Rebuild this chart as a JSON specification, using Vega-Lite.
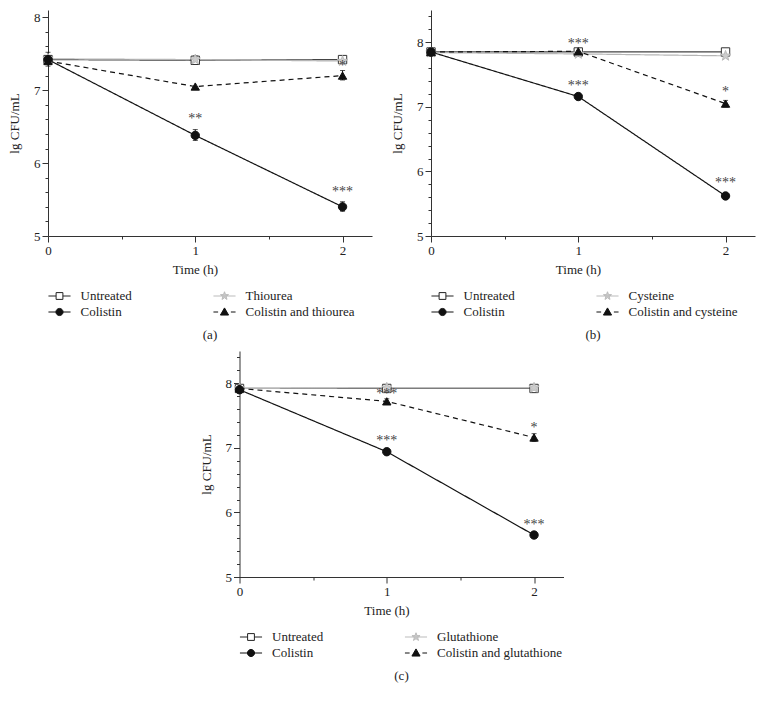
{
"$schema": "https://vega.github.io/schema/vega-lite/v6.json",
"padding": {"left": 8, "top": 10, "right": 5, "bottom": 5},
"background": "white",
"datasets": {
"pts": [
{"panel":"a","series":"Untreated","time":0,"value":7.42},{"panel":"a","series":"Untreated","time":1,"value":7.41},{"panel":"a","series":"Untreated","time":2,"value":7.42},
{"panel":"a","series":"Thiourea","time":0,"value":7.43},{"panel":"a","series":"Thiourea","time":1,"value":7.42},{"panel":"a","series":"Thiourea","time":2,"value":7.40},
{"panel":"a","series":"Colistin","time":0,"value":7.42},{"panel":"a","series":"Colistin","time":1,"value":6.38},{"panel":"a","series":"Colistin","time":2,"value":5.40},
{"panel":"a","series":"Colistin and thiourea","time":0,"value":7.40},{"panel":"a","series":"Colistin and thiourea","time":1,"value":7.05},{"panel":"a","series":"Colistin and thiourea","time":2,"value":7.20},
{"panel":"b","series":"Untreated","time":0,"value":7.85},{"panel":"b","series":"Untreated","time":1,"value":7.85},{"panel":"b","series":"Untreated","time":2,"value":7.85},
{"panel":"b","series":"Cysteine","time":0,"value":7.84},{"panel":"b","series":"Cysteine","time":1,"value":7.82},{"panel":"b","series":"Cysteine","time":2,"value":7.79},
{"panel":"b","series":"Colistin","time":0,"value":7.85},{"panel":"b","series":"Colistin","time":1,"value":7.16},{"panel":"b","series":"Colistin","time":2,"value":5.62},
{"panel":"b","series":"Colistin and cysteine","time":0,"value":7.85},{"panel":"b","series":"Colistin and cysteine","time":1,"value":7.86},{"panel":"b","series":"Colistin and cysteine","time":2,"value":7.05},
{"panel":"c","series":"Untreated","time":0,"value":7.92},{"panel":"c","series":"Untreated","time":1,"value":7.92},{"panel":"c","series":"Untreated","time":2,"value":7.92},
{"panel":"c","series":"Glutathione","time":0,"value":7.92},{"panel":"c","series":"Glutathione","time":1,"value":7.93},{"panel":"c","series":"Glutathione","time":2,"value":7.93},
{"panel":"c","series":"Colistin","time":0,"value":7.90},{"panel":"c","series":"Colistin","time":1,"value":6.94},{"panel":"c","series":"Colistin","time":2,"value":5.65},
{"panel":"c","series":"Colistin and glutathione","time":0,"value":7.92},{"panel":"c","series":"Colistin and glutathione","time":1,"value":7.72},{"panel":"c","series":"Colistin and glutathione","time":2,"value":7.16}
],
"err": [
{"panel":"a","time":0,"lo":7.33,"hi":7.52},{"panel":"a","time":1,"lo":6.31,"hi":6.46},{"panel":"a","time":2,"lo":5.34,"hi":5.47},{"panel":"a","time":2,"lo":7.14,"hi":7.27},{"panel":"a","time":2,"lo":7.38,"hi":7.46},{"panel":"a","time":1,"lo":7.37,"hi":7.47},
{"panel":"b","time":0,"lo":7.80,"hi":7.90},{"panel":"b","time":2,"lo":7.00,"hi":7.10},{"panel":"b","time":2,"lo":7.81,"hi":7.89},
{"panel":"c","time":0,"lo":7.87,"hi":7.96},{"panel":"c","time":1,"lo":7.68,"hi":7.76},{"panel":"c","time":2,"lo":7.10,"hi":7.22},{"panel":"c","time":2,"lo":7.89,"hi":7.95}
],
"ann": [
{"panel":"a","time":1,"value":6.60,"label":"**"},{"panel":"a","time":2,"value":5.60,"label":"***"},{"panel":"a","time":2,"value":7.33,"label":"*"},
{"panel":"b","time":1,"value":7.97,"label":"***"},{"panel":"b","time":1,"value":7.33,"label":"***"},{"panel":"b","time":2,"value":7.23,"label":"*"},{"panel":"b","time":2,"value":5.82,"label":"***"},
{"panel":"c","time":1,"value":7.83,"label":"***"},{"panel":"c","time":1,"value":7.10,"label":"***"},{"panel":"c","time":2,"value":7.30,"label":"*"},{"panel":"c","time":2,"value":5.81,"label":"***"}
]
},
"vconcat": [
{"hconcat": [
{
"width": 324, "height": 226,
"title": {"text": "(a)"},
"layer": [
{"data": {"name": "pts"}, "transform": [{"filter": "datum.panel === 'a'"}],
 "mark": {"type": "line", "strokeWidth": 1.2},
 "encoding": {
  "x": {"field": "time", "type": "quantitative", "scale": {"domain": [0, 2.2], "nice": false, "zero": false},
        "axis": {"orient": "bottom", "title": "Time (h)", "values": [0,1,2], "format": "d", "tickSize": 6, "titleX": 147, "titlePadding": 6, "labelPadding": 2}},
  "y": {"field": "value", "type": "quantitative", "scale": {"domain": [5, 8.1], "nice": false, "zero": false},
        "axis": {"orient": "left", "title": "lg CFU/mL", "values": [5,6,7,8], "format": "d", "tickSize": 6, "titlePadding": 12, "labelPadding": 2}},
  "color": {"field": "series", "type": "nominal", "scale": {"domain": ["Untreated","Colistin","Thiourea","Colistin and thiourea"], "range": ["#444","#111","#b5b5b5","#111"]}, "legend": null},
  "strokeDash": {"field": "series", "type": "nominal", "scale": {"domain": ["Untreated","Colistin","Thiourea","Colistin and thiourea"], "range": [[1,0],[1,0],[1,0],[5,4]]}, "legend": null}
 }},
{"data": {"name": "err"}, "transform": [{"filter": "datum.panel === 'a'"}],
 "mark": {"type": "errorbar", "ticks": {"size": 5}, "color": "#111"},
 "encoding": {"x": {"field": "time", "type": "quantitative", "axis": null}, "y": {"field": "lo", "type": "quantitative", "axis": null}, "y2": {"field": "hi"}}},
{"data": {"name": "pts"}, "transform": [{"filter": "datum.panel === 'a'"}],
 "mark": {"type": "point", "filled": true, "size": 70, "strokeWidth": 1, "opacity": 1},
 "encoding": {
  "x": {"field": "time", "type": "quantitative", "axis": {"orient": "bottom", "title": null, "values": [0.5,1.5], "labels": false, "domain": false, "tickSize": 3}},
  "y": {"field": "value", "type": "quantitative", "axis": {"orient": "left", "title": null, "values": [5.2,5.4,5.6,5.8,6.2,6.4,6.6,6.8,7.2,7.4,7.6,7.8], "labels": false, "domain": false, "tickSize": 3}},
  "shape": {"field": "series", "type": "nominal", "scale": {"domain": ["Untreated","Colistin","Thiourea","Colistin and thiourea"], "range": ["square","circle","M0,-1.3L0.306,-0.421L1.236,-0.402L0.494,0.161L0.764,1.052L0,0.52L-0.764,1.052L-0.494,0.161L-1.236,-0.402L-0.306,-0.421Z","triangle-up"]}, "legend": null},
  "fill": {"field": "series", "type": "nominal", "scale": {"domain": ["Untreated","Colistin","Thiourea","Colistin and thiourea"], "range": ["white","#111","#cccccc","#111"]}, "legend": null},
  "stroke": {"field": "series", "type": "nominal", "scale": {"domain": ["Untreated","Colistin","Thiourea","Colistin and thiourea"], "range": ["#333","#111","#bbbbbb","#111"]}, "legend": null}
 }},
{"data": {"name": "ann"}, "transform": [{"filter": "datum.panel === 'a'"}],
 "mark": {"type": "text", "fontSize": 14, "font": "Liberation Serif", "color": "#444", "baseline": "middle"},
 "encoding": {"x": {"field": "time", "type": "quantitative", "axis": null}, "y": {"field": "value", "type": "quantitative", "axis": null}, "text": {"field": "label"}}},
{"data": {"name": "pts"}, "transform": [{"filter": "false"}],
 "mark": {"type": "point", "filled": true, "opacity": 1, "size": 289},
 "encoding": {
  "shape": {"field": "series", "type": "nominal", "scale": {"domain": ["Untreated","Colistin","Thiourea","Colistin and thiourea"], "range": ["M-1.3,0L-0.4,0M0.4,0L1.3,0M-0.4,-0.4L0.4,-0.4L0.4,0.4L-0.4,0.4Z","M-1.3,0L1.3,0M0.42,0A0.42,0.42 0 1,1 -0.42,0A0.42,0.42 0 1,1 0.42,0Z","M-1.3,0L1.3,0M0,-0.5L0.118,-0.162L0.476,-0.155L0.19,0.062L0.294,0.405L0,0.2L-0.294,0.405L-0.19,0.062L-0.476,-0.155L-0.118,-0.162Z","M-1.3,0L-0.75,0M0.75,0L1.3,0M0,-0.48L0.48,0.36L-0.48,0.36Z"]},
    "legend": {"title": null, "orient": "none", "legendX": 2.5, "legendY": 277, "columns": 2, "columnPadding": 78, "rowPadding": 0, "symbolSize": 289, "symbolStrokeWidth": 1, "symbolOpacity": 1, "labelOffset": 12}},
  "fill": {"field": "series", "type": "nominal", "scale": {"domain": ["Untreated","Colistin","Thiourea","Colistin and thiourea"], "range": ["white","#111","#cccccc","#111"]},
    "legend": {"title": null, "orient": "none", "legendX": 2.5, "legendY": 277, "columns": 2, "columnPadding": 78, "rowPadding": 0, "symbolSize": 289, "symbolStrokeWidth": 1, "symbolOpacity": 1, "labelOffset": 12}},
  "stroke": {"field": "series", "type": "nominal", "scale": {"domain": ["Untreated","Colistin","Thiourea","Colistin and thiourea"], "range": ["#222","#111","#bbbbbb","#111"]},
    "legend": {"title": null, "orient": "none", "legendX": 2.5, "legendY": 277, "columns": 2, "columnPadding": 78, "rowPadding": 0, "symbolSize": 289, "symbolStrokeWidth": 1, "symbolOpacity": 1, "labelOffset": 12}}
 }}
],
"resolve": {"scale": {"color": "independent", "fill": "independent", "stroke": "independent", "shape": "independent", "strokeDash": "independent"}, "axis": {"x": "independent", "y": "independent"}}
},
{
"width": 324, "height": 226,
"title": {"text": "(b)"},
"layer": [
{"data": {"name": "pts"}, "transform": [{"filter": "datum.panel === 'b'"}],
 "mark": {"type": "line", "strokeWidth": 1.2},
 "encoding": {
  "x": {"field": "time", "type": "quantitative", "scale": {"domain": [0, 2.2], "nice": false, "zero": false},
        "axis": {"orient": "bottom", "title": "Time (h)", "values": [0,1,2], "format": "d", "tickSize": 6, "titleX": 147, "titlePadding": 6, "labelPadding": 2}},
  "y": {"field": "value", "type": "quantitative", "scale": {"domain": [5, 8.5], "nice": false, "zero": false},
        "axis": {"orient": "left", "title": "lg CFU/mL", "values": [5,6,7,8], "format": "d", "tickSize": 6, "titlePadding": 12, "labelPadding": 2}},
  "color": {"field": "series", "type": "nominal", "scale": {"domain": ["Untreated","Colistin","Cysteine","Colistin and cysteine"], "range": ["#444","#111","#b5b5b5","#111"]}, "legend": null},
  "strokeDash": {"field": "series", "type": "nominal", "scale": {"domain": ["Untreated","Colistin","Cysteine","Colistin and cysteine"], "range": [[1,0],[1,0],[1,0],[5,4]]}, "legend": null}
 }},
{"data": {"name": "err"}, "transform": [{"filter": "datum.panel === 'b'"}],
 "mark": {"type": "errorbar", "ticks": {"size": 5}, "color": "#111"},
 "encoding": {"x": {"field": "time", "type": "quantitative", "axis": null}, "y": {"field": "lo", "type": "quantitative", "axis": null}, "y2": {"field": "hi"}}},
{"data": {"name": "pts"}, "transform": [{"filter": "datum.panel === 'b'"}],
 "mark": {"type": "point", "filled": true, "size": 70, "strokeWidth": 1, "opacity": 1},
 "encoding": {
  "x": {"field": "time", "type": "quantitative", "axis": {"orient": "bottom", "title": null, "values": [0.5,1.5], "labels": false, "domain": false, "tickSize": 3}},
  "y": {"field": "value", "type": "quantitative", "axis": {"orient": "left", "title": null, "values": [5.2,5.4,5.6,5.8,6.2,6.4,6.6,6.8,7.2,7.4,7.6,7.8,8.2,8.4], "labels": false, "domain": false, "tickSize": 3}},
  "shape": {"field": "series", "type": "nominal", "scale": {"domain": ["Untreated","Colistin","Cysteine","Colistin and cysteine"], "range": ["square","circle","M0,-1.3L0.306,-0.421L1.236,-0.402L0.494,0.161L0.764,1.052L0,0.52L-0.764,1.052L-0.494,0.161L-1.236,-0.402L-0.306,-0.421Z","triangle-up"]}, "legend": null},
  "fill": {"field": "series", "type": "nominal", "scale": {"domain": ["Untreated","Colistin","Cysteine","Colistin and cysteine"], "range": ["white","#111","#cccccc","#111"]}, "legend": null},
  "stroke": {"field": "series", "type": "nominal", "scale": {"domain": ["Untreated","Colistin","Cysteine","Colistin and cysteine"], "range": ["#333","#111","#bbbbbb","#111"]}, "legend": null}
 }},
{"data": {"name": "ann"}, "transform": [{"filter": "datum.panel === 'b'"}],
 "mark": {"type": "text", "fontSize": 14, "font": "Liberation Serif", "color": "#444", "baseline": "middle"},
 "encoding": {"x": {"field": "time", "type": "quantitative", "axis": null}, "y": {"field": "value", "type": "quantitative", "axis": null}, "text": {"field": "label"}}},
{"data": {"name": "pts"}, "transform": [{"filter": "false"}],
 "mark": {"type": "point", "filled": true, "opacity": 1, "size": 289},
 "encoding": {
  "shape": {"field": "series", "type": "nominal", "scale": {"domain": ["Untreated","Colistin","Cysteine","Colistin and cysteine"], "range": ["M-1.3,0L-0.4,0M0.4,0L1.3,0M-0.4,-0.4L0.4,-0.4L0.4,0.4L-0.4,0.4Z","M-1.3,0L1.3,0M0.42,0A0.42,0.42 0 1,1 -0.42,0A0.42,0.42 0 1,1 0.42,0Z","M-1.3,0L1.3,0M0,-0.5L0.118,-0.162L0.476,-0.155L0.19,0.062L0.294,0.405L0,0.2L-0.294,0.405L-0.19,0.062L-0.476,-0.155L-0.118,-0.162Z","M-1.3,0L-0.75,0M0.75,0L1.3,0M0,-0.48L0.48,0.36L-0.48,0.36Z"]},
    "legend": {"title": null, "orient": "none", "legendX": 2.5, "legendY": 277, "columns": 2, "columnPadding": 78, "rowPadding": 0, "symbolSize": 289, "symbolStrokeWidth": 1, "symbolOpacity": 1, "labelOffset": 12}},
  "fill": {"field": "series", "type": "nominal", "scale": {"domain": ["Untreated","Colistin","Cysteine","Colistin and cysteine"], "range": ["white","#111","#cccccc","#111"]},
    "legend": {"title": null, "orient": "none", "legendX": 2.5, "legendY": 277, "columns": 2, "columnPadding": 78, "rowPadding": 0, "symbolSize": 289, "symbolStrokeWidth": 1, "symbolOpacity": 1, "labelOffset": 12}},
  "stroke": {"field": "series", "type": "nominal", "scale": {"domain": ["Untreated","Colistin","Cysteine","Colistin and cysteine"], "range": ["#222","#111","#bbbbbb","#111"]},
    "legend": {"title": null, "orient": "none", "legendX": 2.5, "legendY": 277, "columns": 2, "columnPadding": 78, "rowPadding": 0, "symbolSize": 289, "symbolStrokeWidth": 1, "symbolOpacity": 1, "labelOffset": 12}}
 }}
],
"resolve": {"scale": {"color": "independent", "fill": "independent", "stroke": "independent", "shape": "independent", "strokeDash": "independent"}, "axis": {"x": "independent", "y": "independent"}}
}
],
"spacing": 19,
"resolve": {"scale": {"color": "independent", "fill": "independent", "stroke": "independent", "shape": "independent", "strokeDash": "independent"}, "legend": {"shape": "independent", "fill": "independent", "stroke": "independent"}}
},
{
"width": 324, "height": 226,
"title": {"text": "(c)"},
"layer": [
{"data": {"name": "pts"}, "transform": [{"filter": "datum.panel === 'c'"}],
 "mark": {"type": "line", "strokeWidth": 1.2},
 "encoding": {
  "x": {"field": "time", "type": "quantitative", "scale": {"domain": [0, 2.2], "nice": false, "zero": false},
        "axis": {"orient": "bottom", "title": "Time (h)", "values": [0,1,2], "format": "d", "tickSize": 6, "titleX": 147, "titlePadding": 6, "labelPadding": 2}},
  "y": {"field": "value", "type": "quantitative", "scale": {"domain": [5, 8.5], "nice": false, "zero": false},
        "axis": {"orient": "left", "title": "lg CFU/mL", "values": [5,6,7,8], "format": "d", "tickSize": 6, "titlePadding": 12, "labelPadding": 2}},
  "color": {"field": "series", "type": "nominal", "scale": {"domain": ["Untreated","Colistin","Glutathione","Colistin and glutathione"], "range": ["#444","#111","#b5b5b5","#111"]}, "legend": null},
  "strokeDash": {"field": "series", "type": "nominal", "scale": {"domain": ["Untreated","Colistin","Glutathione","Colistin and glutathione"], "range": [[1,0],[1,0],[1,0],[5,4]]}, "legend": null}
 }},
{"data": {"name": "err"}, "transform": [{"filter": "datum.panel === 'c'"}],
 "mark": {"type": "errorbar", "ticks": {"size": 5}, "color": "#111"},
 "encoding": {"x": {"field": "time", "type": "quantitative", "axis": null}, "y": {"field": "lo", "type": "quantitative", "axis": null}, "y2": {"field": "hi"}}},
{"data": {"name": "pts"}, "transform": [{"filter": "datum.panel === 'c'"}],
 "mark": {"type": "point", "filled": true, "size": 70, "strokeWidth": 1, "opacity": 1},
 "encoding": {
  "x": {"field": "time", "type": "quantitative", "axis": {"orient": "bottom", "title": null, "values": [0.5,1.5], "labels": false, "domain": false, "tickSize": 3}},
  "y": {"field": "value", "type": "quantitative", "axis": {"orient": "left", "title": null, "values": [5.2,5.4,5.6,5.8,6.2,6.4,6.6,6.8,7.2,7.4,7.6,7.8,8.2,8.4], "labels": false, "domain": false, "tickSize": 3}},
  "shape": {"field": "series", "type": "nominal", "scale": {"domain": ["Untreated","Colistin","Glutathione","Colistin and glutathione"], "range": ["square","circle","M0,-1.3L0.306,-0.421L1.236,-0.402L0.494,0.161L0.764,1.052L0,0.52L-0.764,1.052L-0.494,0.161L-1.236,-0.402L-0.306,-0.421Z","triangle-up"]}, "legend": null},
  "fill": {"field": "series", "type": "nominal", "scale": {"domain": ["Untreated","Colistin","Glutathione","Colistin and glutathione"], "range": ["white","#111","#cccccc","#111"]}, "legend": null},
  "stroke": {"field": "series", "type": "nominal", "scale": {"domain": ["Untreated","Colistin","Glutathione","Colistin and glutathione"], "range": ["#333","#111","#bbbbbb","#111"]}, "legend": null}
 }},
{"data": {"name": "ann"}, "transform": [{"filter": "datum.panel === 'c'"}],
 "mark": {"type": "text", "fontSize": 14, "font": "Liberation Serif", "color": "#444", "baseline": "middle"},
 "encoding": {"x": {"field": "time", "type": "quantitative", "axis": null}, "y": {"field": "value", "type": "quantitative", "axis": null}, "text": {"field": "label"}}},
{"data": {"name": "pts"}, "transform": [{"filter": "false"}],
 "mark": {"type": "point", "filled": true, "opacity": 1, "size": 289},
 "encoding": {
  "shape": {"field": "series", "type": "nominal", "scale": {"domain": ["Untreated","Colistin","Glutathione","Colistin and glutathione"], "range": ["M-1.3,0L-0.4,0M0.4,0L1.3,0M-0.4,-0.4L0.4,-0.4L0.4,0.4L-0.4,0.4Z","M-1.3,0L1.3,0M0.42,0A0.42,0.42 0 1,1 -0.42,0A0.42,0.42 0 1,1 0.42,0Z","M-1.3,0L1.3,0M0,-0.5L0.118,-0.162L0.476,-0.155L0.19,0.062L0.294,0.405L0,0.2L-0.294,0.405L-0.19,0.062L-0.476,-0.155L-0.118,-0.162Z","M-1.3,0L-0.75,0M0.75,0L1.3,0M0,-0.48L0.48,0.36L-0.48,0.36Z"]},
    "legend": {"title": null, "orient": "none", "legendX": 2.5, "legendY": 277, "columns": 2, "columnPadding": 78, "rowPadding": 0, "symbolSize": 289, "symbolStrokeWidth": 1, "symbolOpacity": 1, "labelOffset": 12}},
  "fill": {"field": "series", "type": "nominal", "scale": {"domain": ["Untreated","Colistin","Glutathione","Colistin and glutathione"], "range": ["white","#111","#cccccc","#111"]},
    "legend": {"title": null, "orient": "none", "legendX": 2.5, "legendY": 277, "columns": 2, "columnPadding": 78, "rowPadding": 0, "symbolSize": 289, "symbolStrokeWidth": 1, "symbolOpacity": 1, "labelOffset": 12}},
  "stroke": {"field": "series", "type": "nominal", "scale": {"domain": ["Untreated","Colistin","Glutathione","Colistin and glutathione"], "range": ["#222","#111","#bbbbbb","#111"]},
    "legend": {"title": null, "orient": "none", "legendX": 2.5, "legendY": 277, "columns": 2, "columnPadding": 78, "rowPadding": 0, "symbolSize": 289, "symbolStrokeWidth": 1, "symbolOpacity": 1, "labelOffset": 12}}
 }}
],
"resolve": {"scale": {"color": "independent", "fill": "independent", "stroke": "independent", "shape": "independent", "strokeDash": "independent"}, "axis": {"x": "independent", "y": "independent"}}
}
],
"spacing": 9,
"center": true,
"resolve": {"scale": {"color": "independent", "fill": "independent", "stroke": "independent", "shape": "independent", "strokeDash": "independent"}, "legend": {"shape": "independent", "fill": "independent", "stroke": "independent"}},
"config": {
 "view": {"stroke": null},
 "font": "Liberation Serif",
 "axis": {"grid": false, "domainColor": "#333", "tickColor": "#333", "labelColor": "#222", "titleColor": "#222", "labelFont": "Liberation Serif", "titleFont": "Liberation Serif", "labelFontSize": 13, "titleFontSize": 13, "titleFontWeight": "normal", "labelOverlap": false, "labelFlush": false},
 "legend": {"labelFont": "Liberation Serif", "labelFontSize": 13, "labelColor": "#222", "padding": 0, "symbolLimit": 0},
 "title": {"orient": "bottom", "anchor": "middle", "fontSize": 13, "fontWeight": "normal", "font": "Liberation Serif", "color": "#222", "offset": 10}
}
}
